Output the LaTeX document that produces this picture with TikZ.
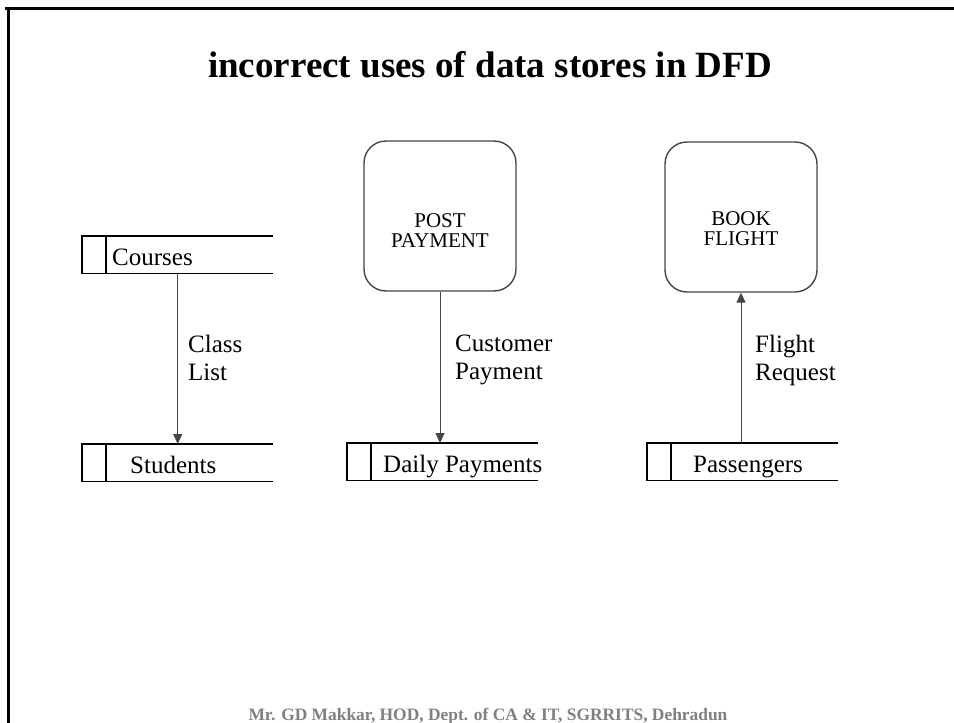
\documentclass[tikz,border=0pt]{standalone}
\usepackage{fontspec}
\setmainfont{Liberation Serif}
\usetikzlibrary{arrows.meta,calc}
\definecolor{footgray}{RGB}{128,128,128}
\definecolor{linegray}{RGB}{70,70,70}
\begin{document}
\begin{tikzpicture}[x=1pt,y=-1pt,
  store/.style={rectangle, minimum width=191pt, minimum height=37pt, inner sep=0pt, anchor=north west},
  storeline/.style={draw=black, line width=1.4pt},
  storetext/.style={anchor=base west, inner sep=0pt, font=\fontsize{25}{28}\selectfont},
  process/.style={rectangle, draw=linegray, line width=1.4pt, rounded corners=22pt, minimum width=152pt, minimum height=150pt, inner sep=0pt},
  proctext/.style={align=center, inner sep=0pt, font=\fontsize{21}{20}\selectfont},
  flow/.style={draw=linegray, line width=1pt, -{Triangle[length=10pt,width=9pt]}},
  flowlabel/.style={anchor=north west, align=left, inner sep=0pt, font=\fontsize{25}{28}\selectfont}]
\useasboundingbox (0,0) rectangle (954,723);
\fill[white] (0,0) rectangle (954,723);
% frame
\draw[line width=3pt] (5,8) -- (954,8);
\draw[line width=3pt] (8,8) -- (8,723);
% title
\node[anchor=base, inner sep=0pt, font=\fontsize{37}{40}\bfseries\selectfont] (title) at (490,77) {incorrect uses of data stores in DFD};
% stores
\node[store] (courses) at (82,236) {};
\node[store] (students) at (82,444) {};
\node[store] (daily) at (347,443) {};
\node[store] (pass) at (647,443) {};
\foreach \s in {courses,students,daily,pass}{
  \draw[storeline] (\s.north east) -- (\s.north west) -- (\s.south west) -- (\s.south east);
  \draw[storeline] ($(\s.north west)+(24,0)$) -- ($(\s.south west)+(24,0)$);
}
\node[storetext] (courses-t) at (112,265) {Courses};
\node[storetext] (students-t) at (130,473) {Students};
\node[storetext] (daily-t) at (383,472) {Daily Payments};
\node[storetext] (pass-t) at (693,472) {Passengers};
% processes
\node[process] (post) at (440,216) {};
\node[proctext] (post-t) at (440,231) {POST\\PAYMENT};
\node[process] (book) at (741,217) {};
\node[proctext] (book-t) at (741,229) {BOOK\\FLIGHT};
% flows
\draw[flow] (courses.south) -- (students.north);
\draw[flow] (post.south) -- (post.south |- daily.north);
\draw[flow] (book.south |- pass.north) -- (book.south);
\node[flowlabel] (l1) at (188,335) {Class\\List};
\node[flowlabel] (l2) at (455,335) {Customer\\Payment};
\node[flowlabel] (l3) at (755,335) {Flight\\Request};
% footer
\node[anchor=base, inner sep=0pt, text=footgray, font=\fontsize{17.4}{20}\bfseries\selectfont] (foot) at (488,720) {Mr. GD Makkar, HOD, Dept. of CA \& IT, SGRRITS, Dehradun};
\end{tikzpicture}
\end{document}
